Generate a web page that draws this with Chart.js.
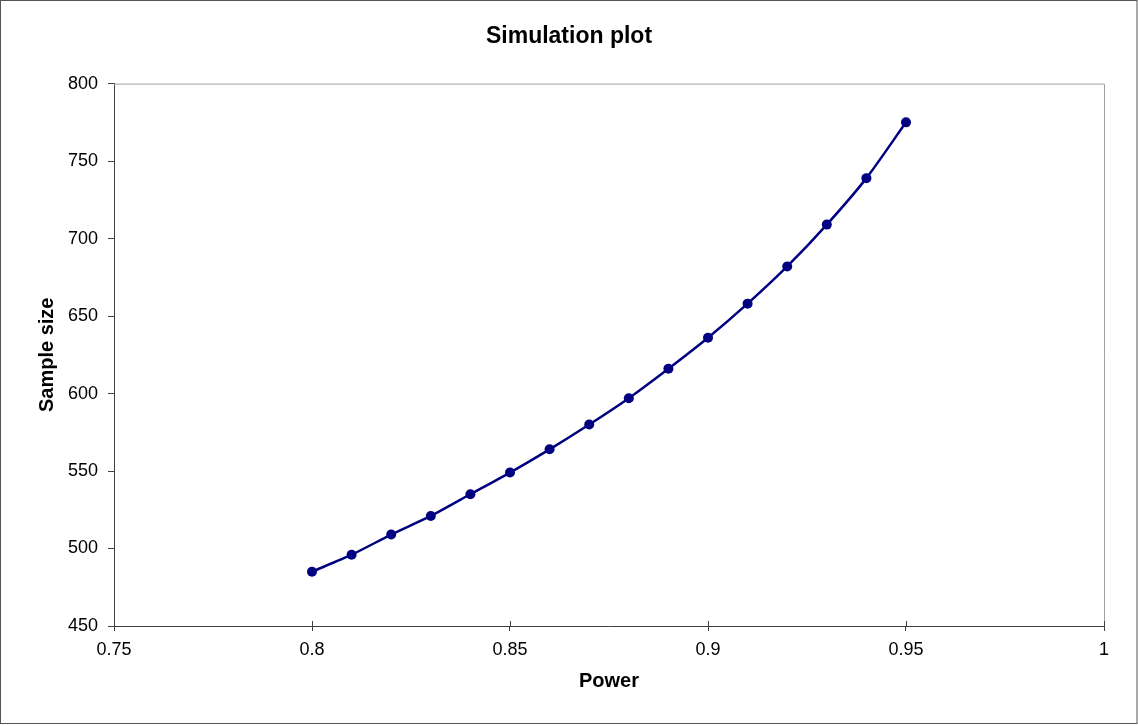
<!DOCTYPE html>
<html>
<head>
<meta charset="utf-8">
<script src="https://cdn.jsdelivr.net/npm/chart.js@4/dist/chart.umd.min.js"></script>
<style>
  html, body { margin: 0; padding: 0; background: #fff; }
  #wrap { width: 1138px; height: 726px; }
</style>
</head>
<body>
<div id="wrap"><canvas id="chart" width="1138" height="726"></canvas></div>
<script>
// values
const power = [0.8, 0.81, 0.82, 0.83, 0.84, 0.85, 0.86, 0.87, 0.88, 0.89, 0.9, 0.91, 0.92, 0.93, 0.94, 0.95];
const sampleSize = [485, 496, 509, 521, 535, 549, 564, 580, 597, 616, 636, 658, 682, 709, 739, 775];
const xTicks = [0.75, 0.8, 0.85, 0.9, 0.95, 1];
const yTicks = [450, 500, 550, 600, 650, 700, 750, 800];

const FONT = "Arial, 'Liberation Sans', sans-serif";

// frame around the whole chart, gray top/right plot edges, inward x ticks
const framePlugin = {
  id: "frame",
  beforeDraw(chart) {
    const { ctx, width, height } = chart;
    ctx.save();
    ctx.fillStyle = "#fff";
    ctx.fillRect(0, 0, width, height);
    ctx.restore();
  },
  afterDraw(chart) {
    const { ctx, chartArea } = chart;
    const x = chart.scales.x;
    ctx.save();
    ctx.lineWidth = 1;
    ctx.strokeStyle = "#a0a0a0";
    ctx.beginPath();
    ctx.moveTo(chartArea.left, chartArea.top + 0.5);
    ctx.lineTo(chartArea.right + 0.5, chartArea.top + 0.5);
    ctx.lineTo(chartArea.right + 0.5, chartArea.bottom);
    ctx.stroke();
    ctx.strokeStyle = "#404040";
    ctx.beginPath();
    xTicks.forEach((v) => {
      const px = Math.round(x.getPixelForValue(v)) + 0.5;
      ctx.moveTo(px, chartArea.bottom - 5);
      ctx.lineTo(px, chartArea.bottom);
    });
    ctx.stroke();
    ctx.strokeStyle = "#555";
    ctx.strokeRect(0.5, 0.5, 1136.5, 723);
    ctx.restore();
  },
};

new Chart(document.getElementById("chart"), {
  type: "scatter",
  data: {
    datasets: [
      {
        label: "Sample size",
        data: power.map((p, i) => ({ x: p, y: sampleSize[i] })),
        showLine: true,
        borderColor: "#000080",
        backgroundColor: "#000080",
        borderWidth: 2.5,
        tension: 0.25,
        pointRadius: 5,
        pointBorderWidth: 0,
      },
    ],
  },
  options: {
    responsive: false,
    animation: false,
    layout: { padding: 0 },
    plugins: {
      legend: { display: false },
      tooltip: { enabled: false },
      title: {
        display: true,
        text: "Simulation plot",
        color: "#000",
        font: { family: FONT, size: 23, weight: "bold" },
        padding: { top: 23, bottom: 33 },
      },
    },
    scales: {
      x: {
        type: "linear",
        min: 0.75,
        max: 1,
        afterBuildTicks: (scale) => { scale.ticks = xTicks.map((v) => ({ value: v })); },
        afterFit: (scale) => { scale.height = 100; },
        grid: { display: true, drawOnChartArea: false, drawTicks: true, tickLength: 5, color: "#404040" },
        border: { display: true, color: "#404040", width: 1 },
        ticks: {
          color: "#000",
          font: { family: FONT, size: 18 },
          padding: 8,
          maxRotation: 0,
          callback: (v) => String(v),
        },
        title: {
          display: true,
          text: "Power",
          color: "#000",
          font: { family: FONT, size: 20, weight: "bold" },
          padding: { top: 0, bottom: 33 },
        },
      },
      y: {
        type: "linear",
        min: 450,
        max: 800,
        afterBuildTicks: (scale) => { scale.ticks = yTicks.map((v) => ({ value: v })); },
        afterFit: (scale) => { scale.width = 114; },
        grid: { display: true, drawOnChartArea: false, drawTicks: true, tickLength: 6, color: "#404040" },
        border: { display: true, color: "#404040", width: 1 },
        ticks: {
          color: "#000",
          font: { family: FONT, size: 18 },
          padding: 10,
          callback: (v) => String(v),
        },
        title: {
          display: true,
          text: "Sample size",
          color: "#000",
          font: { family: FONT, size: 20, weight: "bold" },
          padding: { top: 35, bottom: 0 },
        },
      },
      // empty right-hand spacer so the title stays centred on the whole canvas
      yRight: {
        type: "linear",
        position: "right",
        min: 450,
        max: 800,
        afterFit: (scale) => { scale.width = 34; },
        grid: { display: false },
        border: { display: false },
        ticks: { display: false },
      },
    },
  },
  plugins: [framePlugin],
});
</script>
</body>
</html>
